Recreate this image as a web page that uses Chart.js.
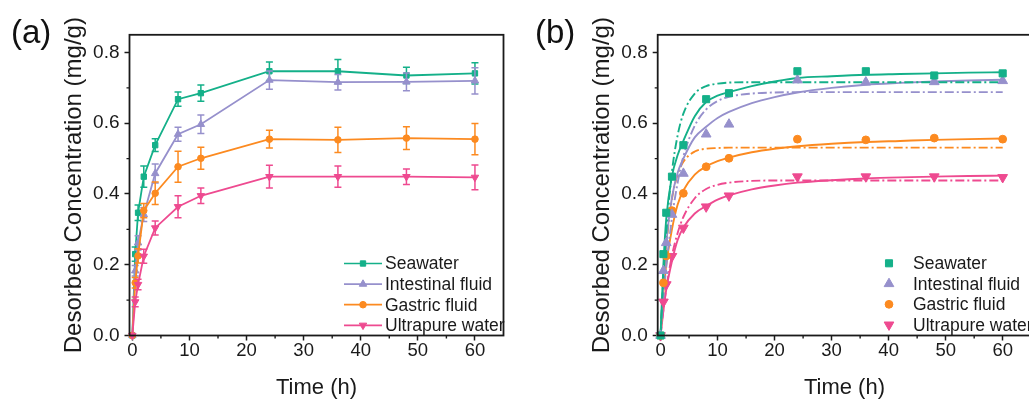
<!DOCTYPE html>
<html>
<head>
<meta charset="utf-8">
<script src="https://cdn.jsdelivr.net/npm/chart.js@4.4.1/dist/chart.umd.min.js"></script>
<style>
  html, body { margin: 0; padding: 0; background: #fff; overflow: hidden; width: 1029px; height: 401px; }
  #wrap { position: relative; width: 1029px; height: 401px; overflow: hidden; }
  canvas { position: absolute; top: 0; }
  #chartA { left: 0; }
  #chartB { left: 520px; }
  .tag { position: absolute; top: 15px; font: 33px/33px "Liberation Sans", Arial, sans-serif; color: #111; }
</style>
</head>
<body>
<div id="wrap">
  <canvas id="chartA" width="515" height="401"></canvas>
  <canvas id="chartB" width="520" height="401"></canvas>
  <div class="tag" style="left:11px">(a)</div>
  <div class="tag" style="left:535px">(b)</div>
</div>
<script>
// Sampling times (h)
const time = [0, 0.5, 1, 2, 4, 8, 12, 24, 36, 48, 60];

// Mean desorbed concentration (mg/g)
const seawater   = [0, 0.230, 0.347, 0.449, 0.538, 0.668, 0.685, 0.747, 0.747, 0.735, 0.741];
const intestinal = [0, 0.183, 0.262, 0.342, 0.458, 0.569, 0.597, 0.722, 0.716, 0.717, 0.720];
const gastric    = [0, 0.149, 0.225, 0.353, 0.402, 0.477, 0.501, 0.555, 0.553, 0.558, 0.555];
const ultrapure  = [0, 0.095, 0.144, 0.224, 0.304, 0.364, 0.395, 0.449, 0.449, 0.449, 0.447];

// Standard deviations
const seawaterErr   = [0, 0.020, 0.022, 0.030, 0.018, 0.020, 0.023, 0.026, 0.033, 0.023, 0.030];
const intestinalErr = [0, 0.015, 0.020, 0.020, 0.027, 0.020, 0.026, 0.026, 0.022, 0.025, 0.037];
const gastricErr    = [0, 0.015, 0.020, 0.020, 0.032, 0.044, 0.031, 0.025, 0.036, 0.032, 0.044];
const ultrapureErr  = [0, 0.014, 0.015, 0.020, 0.020, 0.031, 0.022, 0.032, 0.030, 0.022, 0.035];

// Kinetic fit curves, sampled along time
const fitTime = [0, 0.5, 1, 2, 3, 4, 6, 8, 10, 12, 16, 20, 24, 30, 36, 42, 48, 54, 60];
// pseudo-second-order (solid)
const seawaterPSO   = [0, 0.20, 0.33, 0.45, 0.51, 0.55, 0.62, 0.66, 0.678, 0.688, 0.705, 0.718, 0.728, 0.733, 0.737, 0.739, 0.741, 0.743, 0.744];
const intestinalPSO = [0, 0.15, 0.26, 0.39, 0.46, 0.50, 0.56, 0.59, 0.615, 0.632, 0.657, 0.674, 0.687, 0.700, 0.709, 0.714, 0.718, 0.721, 0.723];
const gastricPSO    = [0, 0.12, 0.20, 0.30, 0.37, 0.41, 0.455, 0.478, 0.493, 0.503, 0.518, 0.528, 0.535, 0.542, 0.547, 0.550, 0.553, 0.555, 0.557];
const ultrapurePSO  = [0, 0.07, 0.13, 0.21, 0.27, 0.305, 0.345, 0.366, 0.384, 0.396, 0.413, 0.424, 0.432, 0.439, 0.444, 0.447, 0.449, 0.451, 0.452];
// pseudo-first-order (dash-dot)
const seawaterPFO   = [0, 0.164, 0.290, 0.463, 0.566, 0.627, 0.684, 0.705, 0.712, 0.715, 0.716, 0.716, 0.716, 0.716, 0.716, 0.716, 0.716, 0.716, 0.716];
const intestinalPFO = [0, 0.105, 0.193, 0.332, 0.432, 0.506, 0.593, 0.639, 0.663, 0.675, 0.684, 0.687, 0.688, 0.688, 0.688, 0.688, 0.688, 0.688, 0.688];
const gastricPFO    = [0, 0.147, 0.253, 0.386, 0.455, 0.491, 0.520, 0.528, 0.530, 0.531, 0.531, 0.531, 0.531, 0.531, 0.531, 0.531, 0.531, 0.531, 0.531];
const ultrapurePFO  = [0, 0.073, 0.133, 0.226, 0.290, 0.335, 0.388, 0.414, 0.426, 0.432, 0.437, 0.438, 0.438, 0.438, 0.438, 0.438, 0.438, 0.438, 0.438];

// Labels and axis ticks
const seriesNames = ['Seawater', 'Intestinal fluid', 'Gastric fluid', 'Ultrapure water'];
const xTicks = [0, 10, 20, 30, 40, 50, 60];
const xMinorTicks = [5, 15, 25, 35, 45, 55];
const yTicks = [0, 0.2, 0.4, 0.6, 0.8];
const yMinorTicks = [0.1, 0.3, 0.5, 0.7];
const xTitle = 'Time (h)';
const yTitle = 'Desorbed Concentration (mg/g)';

// Styling
const FONT = '"Liberation Sans", Arial, Helvetica, sans-serif';
const INK = '#1a1a1a';
const colors = ['#14b089', '#9690cc', '#fc8a20', '#ee4a90'];
const markers = ['rect', 'triangle', 'circle', 'triangle'];
const markerRot = [0, 0, 0, 180];
const sizeA = [3.8, 4.3, 3.3, 4.3];
const sizeB = [5.0, 5.6, 3.9, 5.6];

const means = [seawater, intestinal, gastric, ultrapure];
const errs = [seawaterErr, intestinalErr, gastricErr, ultrapureErr];
const pso = [seawaterPSO, intestinalPSO, gastricPSO, ultrapurePSO];
const pfo = [seawaterPFO, intestinalPFO, gastricPFO, ultrapurePFO];

const pts = (xs, ys) => xs.map((x, i) => ({ x, y: ys[i] }));

// Error bars drawn beneath each series' own line and markers
const errorBars = {
  id: 'errorBars',
  beforeDatasetDraw(chart, args) {
    const ds = chart.data.datasets[args.index];
    if (!ds.errors) return;
    const { ctx, scales: { x, y } } = chart;
    ctx.save();
    ctx.strokeStyle = ds.borderColor;
    ctx.lineWidth = 1.5;
    ctx.beginPath();
    ds.data.forEach((p, i) => {
      const e = ds.errors[i];
      if (!e) return;
      const px = x.getPixelForValue(p.x);
      const t = y.getPixelForValue(p.y + e);
      const b = y.getPixelForValue(p.y - e);
      ctx.moveTo(px, t); ctx.lineTo(px, b);
      ctx.moveTo(px - 3.5, t); ctx.lineTo(px + 3.5, t);
      ctx.moveTo(px - 3.5, b); ctx.lineTo(px + 3.5, b);
    });
    ctx.stroke();
    ctx.restore();
  }
};

// Closed frame around the plot area plus minor tick marks
const frame = {
  id: 'frame',
  afterDatasetsDraw(chart) {
    const { ctx, chartArea: a, scales: { x, y } } = chart;
    ctx.save();
    ctx.strokeStyle = INK;
    ctx.lineWidth = 1.8;
    ctx.strokeRect(a.left, a.top, a.right - a.left, a.bottom - a.top);
    ctx.lineWidth = 1.4;
    ctx.beginPath();
    xMinorTicks.forEach(v => {
      const px = x.getPixelForValue(v);
      ctx.moveTo(px, a.bottom); ctx.lineTo(px, a.bottom + 3);
    });
    yMinorTicks.forEach(v => {
      const py = y.getPixelForValue(v);
      ctx.moveTo(a.left, py); ctx.lineTo(a.left - 3, py);
    });
    ctx.stroke();
    ctx.restore();
  }
};

// In-plot legend
function makeLegend(opt) {
  return {
    id: 'inLegend',
    afterDraw(chart) {
      const ctx = chart.ctx;
      ctx.save();
      ctx.font = opt.size + 'px ' + FONT;
      ctx.textBaseline = 'middle';
      ctx.textAlign = 'left';
      seriesNames.forEach((name, i) => {
        const yy = opt.y0 + i * opt.dy;
        ctx.strokeStyle = colors[i];
        ctx.fillStyle = colors[i];
        if (opt.line) {
          ctx.lineWidth = 1.7;
          ctx.beginPath();
          ctx.moveTo(opt.x0, yy); ctx.lineTo(opt.x1, yy);
          ctx.stroke();
        }
        ctx.lineWidth = 1;
        Chart.helpers.drawPoint(ctx, { pointStyle: markers[i], rotation: markerRot[i], radius: opt.r[i], borderWidth: 1 }, opt.mx, yy);
        ctx.fillStyle = INK;
        ctx.fillText(name, opt.tx, yy + 1);
      });
      ctx.restore();
    }
  };
}

function axes(yWidth, yTitlePad) {
  const grid = { drawOnChartArea: false, drawTicks: true, tickLength: 5, tickWidth: 1.5, color: INK, tickColor: INK };
  return {
    x: {
      type: 'linear', min: -0.5, max: 65,
      afterFit(s) { s.height = 401 - 335.5; },
      afterBuildTicks(s) { s.ticks = xTicks.map(v => ({ value: v })); },
      ticks: { padding: 1, maxRotation: 0, autoSkip: false, color: INK, font: { family: FONT, size: 18.5, lineHeight: 1 } },
      grid, border: { display: false },
      title: { display: true, text: xTitle, color: INK, font: { family: FONT, size: 22 }, padding: { top: 0, bottom: 0 } }
    },
    y: {
      type: 'linear', min: 0, max: 0.85,
      afterFit(s) { s.width = yWidth; },
      afterBuildTicks(s) { s.ticks = yTicks.map(v => ({ value: v })); },
      ticks: { padding: 5, color: INK, font: { family: FONT, size: 19 }, callback: v => v.toFixed(1) },
      grid, border: { display: false },
      title: { display: true, text: yTitle, color: INK, font: { family: FONT, size: 24 }, padding: { top: yTitlePad, bottom: 0 } }
    }
  };
}

const common = {
  responsive: false,
  animation: false,
  devicePixelRatio: 1,
  events: [],
  plugins: { legend: { display: false }, tooltip: { enabled: false } }
};

// (a) measured kinetics with error bars
new Chart(document.getElementById('chartA'), {
  type: 'scatter',
  data: {
    datasets: seriesNames.map((name, i) => ({
      label: name,
      data: pts(time, means[i]),
      errors: errs[i],
      showLine: true,
      borderColor: colors[i],
      backgroundColor: colors[i],
      borderWidth: 1.8,
      pointStyle: markers[i],
      rotation: markerRot[i],
      pointRadius: sizeA[i],
      pointBorderWidth: 1,
      clip: false,
      order: 3 - i
    }))
  },
  options: Object.assign({}, common, {
    layout: { padding: { top: 34.8, right: 11.5, left: 0, bottom: 0 } },
    scales: axes(129.5, 60)
  }),
  plugins: [errorBars, frame, makeLegend({ line: true, x0: 344, x1: 382, mx: 363, tx: 385, y0: 263.5, dy: 20.6, size: 17.5, r: sizeA })]
});

// (b) kinetic model fits
const fitSets = [];
seriesNames.forEach((name, i) => {
  fitSets.push({
    label: name,
    data: pts(time, means[i]),
    showLine: false,
    borderColor: colors[i],
    backgroundColor: colors[i],
    pointStyle: markers[i],
    rotation: markerRot[i],
    pointRadius: sizeB[i],
    pointBorderWidth: 1,
    clip: false,
    order: 0
  });
});
seriesNames.forEach((name, i) => {
  fitSets.push({
    label: name + ' PSO',
    data: pts(fitTime, pso[i]),
    showLine: true,
    borderColor: colors[i],
    borderWidth: 1.9,
    pointRadius: 0,
    cubicInterpolationMode: 'monotone',
    order: 1
  });
  fitSets.push({
    label: name + ' PFO',
    data: pts(fitTime, pfo[i]),
    showLine: true,
    borderColor: colors[i],
    borderWidth: 1.9,
    borderDash: [9, 3, 2, 3],
    pointRadius: 0,
    cubicInterpolationMode: 'monotone',
    order: 1
  });
});

new Chart(document.getElementById('chartB'), {
  type: 'scatter',
  data: { datasets: fitSets },
  options: Object.assign({}, common, {
    layout: { padding: { top: 34.8, right: 8.8, left: 0, bottom: 0 } },
    scales: axes(137.7, 68)
  }),
  plugins: [frame, makeLegend({ line: false, mx: 369, tx: 393, y0: 263.3, dy: 20.5, size: 17.5, r: sizeB })]
});
</script>
</body>
</html>
